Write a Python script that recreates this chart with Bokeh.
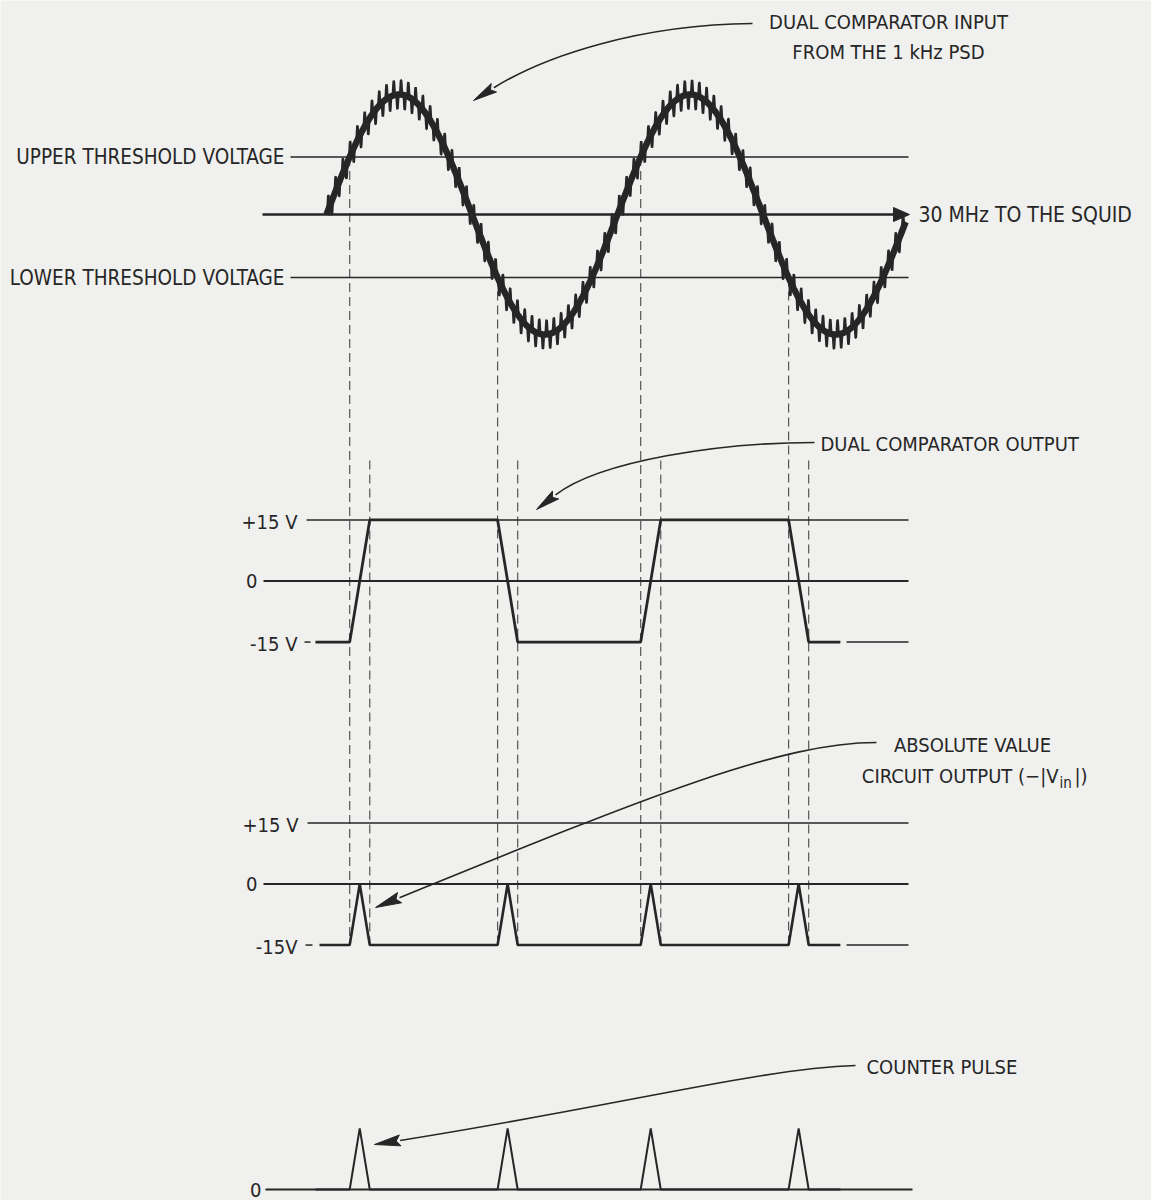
import numpy as np
from bokeh.plotting import figure
from bokeh.models import Range1d
from bokeh.core.properties import value
from bokeh.embed import file_html
from bokeh.resources import INLINE

# ---------------------------------------------------------------------------
# Signals (time in ms, comparator rails in volts)
# ---------------------------------------------------------------------------
PSD_PERIOD_MS = 1.0          # 1 kHz phase-sensitive-detector output
PSD_AMPLITUDE = 1.0          # normalised sine amplitude
PSD_SPAN_MS = 1.99           # length of trace shown
UPPER_THRESHOLD = 0.48       # fraction of the sine amplitude
LOWER_THRESHOLD = -0.525
RF_CYCLES_PER_PERIOD = 40    # symbolic 30 MHz ripple riding on the sine
RF_RIPPLE = 0.12

RAIL_V = 15.0                              # comparator output rails
COMPARATOR_LEVELS = [15, 0, -15]
COMPARATOR_LABELS = ["+15 V", "0", "-15 V"]
ABS_LEVELS = [15, 0, -15]
ABS_LABELS = ["+15 V", "0", "-15V"]
COUNTER_LEVELS = [0]
COUNTER_LABELS = ["0"]
SWITCH_RAMP_MS = 0.069       # slew time of the comparator edges
TRACE_START_MS = -0.038
TRACE_END_MS = 1.766

# ---------------------------------------------------------------------------
# Layout of the four stacked traces (page coordinates, y grows downward)
# ---------------------------------------------------------------------------
W, H = 1151, 1200
X0, PX_PER_MS = 326.0, 291.0
SINE_BASE, SINE_SCALE = 214.0, 120.0
COMP_BASE, ABS_BASE, COUNT_BASE = 580.5, 883.5, 1189.0
PX_PER_V = 4.07
LINE_RIGHT = 908.0

INK = "#262626"
PAPER = "#f0f0ee"
FONT = value("DejaVu Sans Condensed, Liberation Sans, sans-serif")
FS = "20px"


def tx(t):
    return X0 + np.asarray(t, dtype=float) * PX_PER_MS


def sine_y(v):
    return SINE_BASE - np.asarray(v, dtype=float) * SINE_SCALE


def volt_y(base, v):
    return base - np.asarray(v, dtype=float) * PX_PER_V


p = figure(width=W, height=H, x_range=Range1d(0, W), y_range=Range1d(H, 0),
           output_backend="svg", toolbar_location=None, min_border=0)
p.axis.visible = False
p.grid.visible = False
p.outline_line_color = None
p.background_fill_color = PAPER
p.border_fill_color = PAPER


def label(x, y, s, align="left", size=FS):
    p.text(x=[x], y=[y], text=[s], text_font=FONT, text_font_size=size,
           text_color=INK, text_align=align, text_baseline="middle")


def dart(tip, back, length=24.0, half=5.0):
    tip = np.array(tip, float)
    d = tip - np.array(back, float)
    d /= np.hypot(*d)
    n = np.array([-d[1], d[0]])
    base = tip - d * length
    pts = [tip, base + n * half, base + d * 4, base - n * half]
    p.patch([q[0] for q in pts], [q[1] for q in pts], color=INK, line_width=1)
    return base


def curved_arrow(start, c1, c2, tip, length=24.0, half=5.0):
    end = dart(tip, c2, length, half)
    p.bezier(x0=[start[0]], y0=[start[1]], x1=[end[0]], y1=[end[1]],
             cx0=[c1[0]], cy0=[c1[1]], cx1=[c2[0]], cy1=[c2[1]],
             line_color=INK, line_width=1.6)


# ---------------------------------------------------------------------------
# Threshold crossings -> comparator switching instants
# ---------------------------------------------------------------------------
phase_up = np.arcsin(UPPER_THRESHOLD / PSD_AMPLITUDE) / (2 * np.pi) * PSD_PERIOD_MS
phase_dn = 0.5 * PSD_PERIOD_MS + np.arcsin(-LOWER_THRESHOLD / PSD_AMPLITUDE) / (2 * np.pi) * PSD_PERIOD_MS
switch_t = np.array([phase_up, phase_dn, phase_up + PSD_PERIOD_MS, phase_dn + PSD_PERIOD_MS])
switch_dir = [1, -1, 1, -1]

comp_t = [TRACE_START_MS]
comp_v = [-RAIL_V]
for t, d in zip(switch_t, switch_dir):
    comp_t += [t, t + SWITCH_RAMP_MS]
    comp_v += [-d * RAIL_V, d * RAIL_V]
comp_t.append(TRACE_END_MS)
comp_v.append(-RAIL_V)
comp_t = np.array(comp_t)
comp_v = np.array(comp_v)

# absolute-value circuit gives -|Vin|; counter pulse is that lifted by one rail
fine_t = np.sort(np.concatenate([comp_t, switch_t + SWITCH_RAMP_MS / 2]))
fine_v = np.interp(fine_t, comp_t, comp_v)
abs_v = -np.abs(fine_v)
count_v = abs_v + RAIL_V

# ---------------------------------------------------------------------------
# Top trace: PSD sine with RF ripple
# ---------------------------------------------------------------------------
# dashed time markers (drawn first so traces sit on top)
y_end = float(volt_y(ABS_BASE, -RAIL_V))
y_start = [float(sine_y(UPPER_THRESHOLD)), float(sine_y(LOWER_THRESHOLD))] * 2
p.segment(x0=tx(switch_t), y0=y_start, x1=tx(switch_t), y1=[y_end] * 4,
          line_color="#555555", line_width=1.2, line_dash="9 5")
ramp_end = switch_t + SWITCH_RAMP_MS
p.segment(x0=tx(ramp_end), y0=[460] * 4, x1=tx(ramp_end), y1=[y_end] * 4,
          line_color="#555555", line_width=1.2, line_dash="9 5")

# baseline with arrow toward the SQUID
p.segment(x0=[262], y0=[SINE_BASE], x1=[896], y1=[SINE_BASE], line_color=INK, line_width=2.4)
p.patch([909, 893, 893], [SINE_BASE, SINE_BASE - 7, SINE_BASE + 7], color=INK)
label(918, SINE_BASE, "30 MHz TO THE SQUID", size="21px")

for thr, name in [(UPPER_THRESHOLD, "UPPER THRESHOLD VOLTAGE"),
                  (LOWER_THRESHOLD, "LOWER THRESHOLD VOLTAGE")]:
    y = float(sine_y(thr))
    p.segment(x0=[290], y0=[y], x1=[LINE_RIGHT], y1=[y], line_color=INK, line_width=1.5)
    label(284, y, name, align="right", size="20.5px")

t_s = np.linspace(0, PSD_SPAN_MS, 6000)
w = 2 * np.pi * t_s / PSD_PERIOD_MS
clean = PSD_AMPLITUDE * np.sin(w)
rf = np.sin(RF_CYCLES_PER_PERIOD * w)
ripple = RF_RIPPLE * np.sign(rf) * np.abs(rf) ** 5
p.line(tx(t_s), sine_y(clean), line_color=INK, line_width=6.5)
p.line(tx(t_s), sine_y(clean + ripple), line_color=INK, line_width=2.4)

label(888, 21, "DUAL COMPARATOR INPUT", align="center")
label(888, 51, "FROM THE 1 kHz PSD", align="center")
curved_arrow((752, 23), (640, 24), (545, 55), (473, 100), length=24, half=5)

# ---------------------------------------------------------------------------
# Comparator output
# ---------------------------------------------------------------------------
for lv, name in zip(COMPARATOR_LEVELS, COMPARATOR_LABELS):
    y = float(volt_y(COMP_BASE, lv))
    if lv > 0:
        p.segment(x0=[306], y0=[y], x1=[LINE_RIGHT], y1=[y], line_color=INK, line_width=1.5)
        label(297, y + 2, name, align="right")
    elif lv == 0:
        p.segment(x0=[263], y0=[y], x1=[LINE_RIGHT], y1=[y], line_color=INK, line_width=2.2)
        label(257, y, name, align="right")
    else:
        p.segment(x0=[304, 846], y0=[y, y], x1=[310, LINE_RIGHT], y1=[y, y], line_color=INK, line_width=1.5)
        label(297, y + 2, name, align="right")
p.line(tx(comp_t), volt_y(COMP_BASE, comp_v), line_color=INK, line_width=2.8)

label(820, 443, "DUAL COMPARATOR OUTPUT")
curved_arrow((814, 442), (720, 442), (600, 460), (536, 509), length=24, half=5)

# ---------------------------------------------------------------------------
# Absolute value circuit output
# ---------------------------------------------------------------------------
for lv, name in zip(ABS_LEVELS, ABS_LABELS):
    y = float(volt_y(ABS_BASE, lv))
    if lv > 0:
        p.segment(x0=[307], y0=[y], x1=[LINE_RIGHT], y1=[y], line_color=INK, line_width=1.5)
        label(298, y + 2, name, align="right")
    elif lv == 0:
        p.segment(x0=[263], y0=[y], x1=[LINE_RIGHT], y1=[y], line_color=INK, line_width=2.2)
        label(257, y, name, align="right")
    else:
        p.segment(x0=[305, 846], y0=[y, y], x1=[312, LINE_RIGHT], y1=[y, y], line_color=INK, line_width=1.5)
        label(297, y + 2, name, align="right")
abs_mask = fine_t >= (319 - X0) / PX_PER_MS
p.line(tx(np.concatenate([[(319 - X0) / PX_PER_MS], fine_t[abs_mask]])),
       volt_y(ABS_BASE, np.concatenate([[-RAIL_V], abs_v[abs_mask]])),
       line_color=INK, line_width=2.6)

label(972, 744, "ABSOLUTE VALUE", align="center")
label(1058, 775, "CIRCUIT OUTPUT (−|V", align="right")
label(1059, 782, "in", size="15px")
label(1074, 775, "|)")
curved_arrow((876, 742), (780, 742), (650, 795), (375, 907), length=26, half=5.5)

# ---------------------------------------------------------------------------
# Counter pulse
# ---------------------------------------------------------------------------
for lv, name in zip(COUNTER_LEVELS, COUNTER_LABELS):
    y = float(volt_y(COUNT_BASE, lv))
    p.segment(x0=[265], y0=[y], x1=[912], y1=[y], line_color=INK, line_width=2.2)
    label(261, y, name, align="right")
p.line(tx(fine_t), volt_y(COUNT_BASE, count_v), line_color=INK, line_width=2.0)

label(866, 1066, "COUNTER PULSE")
curved_arrow((855, 1065), (760, 1068), (620, 1105), (374, 1144), length=26, half=5.5)

open("out.html", "w").write(file_html(p, INLINE))
